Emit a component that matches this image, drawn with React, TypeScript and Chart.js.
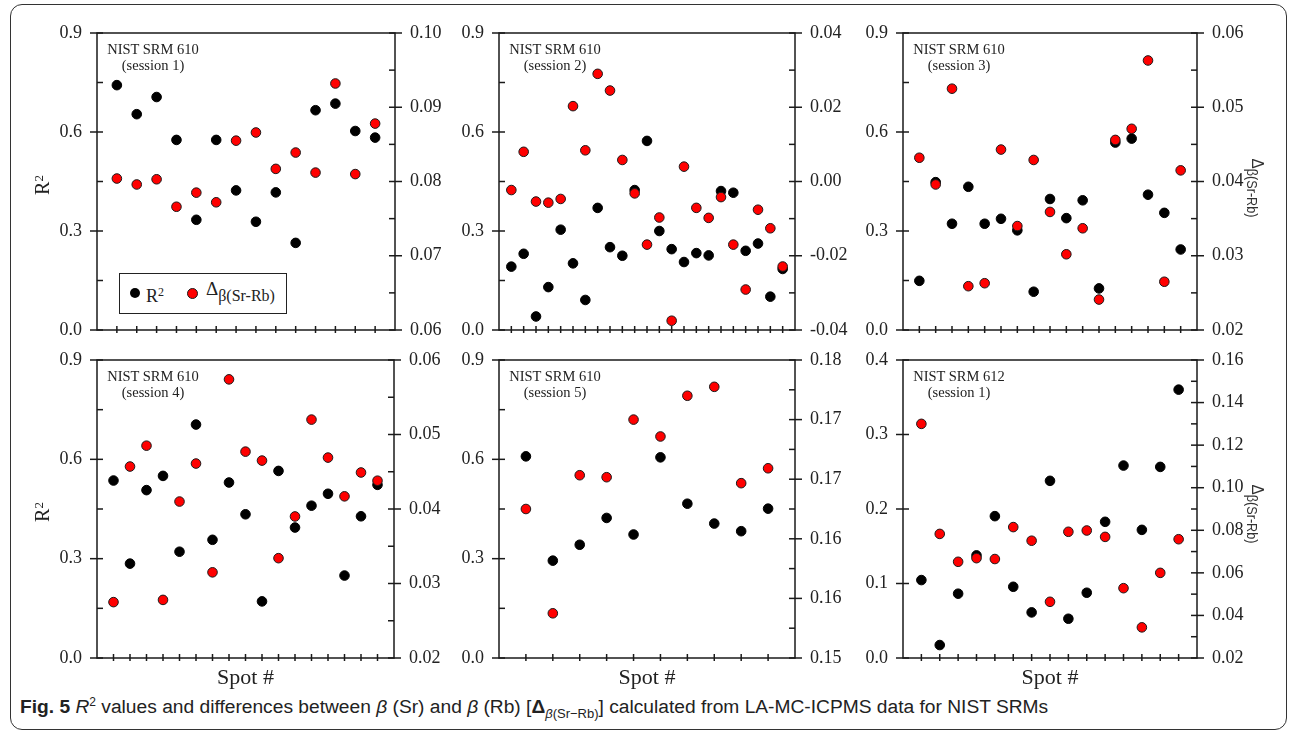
import React, { useEffect, useRef } from "react";
import { Chart, registerables } from "chart.js";

Chart.register(...registerables);

// ---------------- DATA ----------------
// NIST SRM 610 (session 1)
const s1R2 = [0.742, 0.654, 0.706, 0.576, 0.334, 0.576, 0.423, 0.328, 0.417, 0.264, 0.666, 0.686, 0.603, 0.583];
const s1Delta = [0.0804, 0.0796, 0.0803, 0.0766, 0.0785, 0.0772, 0.0855, 0.0866, 0.0817, 0.0839, 0.0812, 0.0932, 0.081, 0.0878];

// NIST SRM 610 (session 2)
const s2R2 = [0.192, 0.231, 0.041, 0.13, 0.304, 0.202, 0.091, 0.37, 0.251, 0.225, 0.424, 0.573, 0.3, 0.245, 0.206, 0.233, 0.226, 0.421, 0.416, 0.24, 0.262, 0.101, 0.185];
const s2Delta = [-0.0023, 0.008, -0.0054, -0.0057, -0.0047, 0.0203, 0.0084, 0.029, 0.0245, 0.0058, -0.0032, -0.017, -0.0097, -0.0375, 0.004, -0.0071, -0.0098, -0.0042, -0.017, -0.0291, -0.0076, -0.0126, -0.0229];

// NIST SRM 610 (session 3)
const s3R2 = [0.149, 0.448, 0.322, 0.434, 0.322, 0.337, 0.302, 0.116, 0.397, 0.339, 0.393, 0.126, 0.568, 0.58, 0.41, 0.355, 0.244];
const s3Delta = [0.0432, 0.0396, 0.0525, 0.0259, 0.0263, 0.0443, 0.034, 0.0429, 0.0359, 0.0302, 0.0337, 0.0241, 0.0456, 0.0471, 0.0563, 0.0265, 0.0415];

// NIST SRM 610 (session 4)
const s4R2 = [0.536, 0.285, 0.507, 0.55, 0.321, 0.705, 0.357, 0.53, 0.434, 0.171, 0.565, 0.394, 0.46, 0.496, 0.249, 0.428, 0.523];
const s4Delta = [0.0275, 0.0457, 0.0485, 0.0278, 0.041, 0.0461, 0.0315, 0.0574, 0.0477, 0.0465, 0.0334, 0.039, 0.052, 0.0469, 0.0417, 0.0449, 0.0438];

// NIST SRM 610 (session 5)
const s5R2 = [0.609, 0.294, 0.342, 0.423, 0.373, 0.606, 0.466, 0.406, 0.383, 0.451];
const s5Delta = [0.165, 0.1545, 0.1684, 0.1682, 0.174, 0.1723, 0.1764, 0.1773, 0.1676, 0.1691];

// NIST SRM 612 (session 1)
const s6R2 = [0.1046, 0.0174, 0.0863, 0.1377, 0.1904, 0.0956, 0.0612, 0.2378, 0.0527, 0.0876, 0.1828, 0.2583, 0.172, 0.2565, 0.3602];
const s6Delta = [0.13, 0.0783, 0.0652, 0.0669, 0.0665, 0.0815, 0.0751, 0.0464, 0.0793, 0.0799, 0.0769, 0.0528, 0.0344, 0.06, 0.0758];

// Tick values
const leftTicksA = [0, 0.3, 0.6, 0.9];
const leftTicksB = [0, 0.1, 0.2, 0.3, 0.4];
const rightTicks1 = [0.06, 0.07, 0.08, 0.09, 0.1];
const rightTicks2 = [-0.04, -0.02, 0, 0.02, 0.04];
const rightTicks3 = [0.02, 0.03, 0.04, 0.05, 0.06];
const rightTicks4 = [0.02, 0.03, 0.04, 0.05, 0.06];
const rightTicks5 = [0.15, 0.156, 0.162, 0.168, 0.174, 0.18];
const rightTicks6 = [0.02, 0.04, 0.06, 0.08, 0.1, 0.12, 0.14, 0.16];

const panelNames = [
  ["NIST SRM 610", "(session 1)"],
  ["NIST SRM 610", "(session 2)"],
  ["NIST SRM 610", "(session 3)"],
  ["NIST SRM 610", "(session 4)"],
  ["NIST SRM 610", "(session 5)"],
  ["NIST SRM 612", "(session 1)"],
];

type Spec = {
  r2: number[];
  delta: number[];
  left: number[];
  right: number[];
  leftMinor: boolean;
  rightMinor: boolean;
  names: string[];
};

const specs: Spec[] = [
  { r2: s1R2, delta: s1Delta, left: leftTicksA, right: rightTicks1, leftMinor: true, rightMinor: true, names: panelNames[0] },
  { r2: s2R2, delta: s2Delta, left: leftTicksA, right: rightTicks2, leftMinor: true, rightMinor: true, names: panelNames[1] },
  { r2: s3R2, delta: s3Delta, left: leftTicksA, right: rightTicks3, leftMinor: true, rightMinor: true, names: panelNames[2] },
  { r2: s4R2, delta: s4Delta, left: leftTicksA, right: rightTicks4, leftMinor: true, rightMinor: true, names: panelNames[3] },
  { r2: s5R2, delta: s5Delta, left: leftTicksA, right: rightTicks5, leftMinor: true, rightMinor: true, names: panelNames[4] },
  { r2: s6R2, delta: s6Delta, left: leftTicksB, right: rightTicks6, leftMinor: false, rightMinor: true, names: panelNames[5] },
];

// ---------------- LAYOUT ----------------
type Box = { L: number; T: number; R: number; B: number };
const layouts: Box[] = [
  { L: 97, T: 33, R: 395, B: 330 },
  { L: 499, T: 33, R: 795, B: 330 },
  { L: 903, T: 33, R: 1197, B: 330 },
  { L: 97, T: 360, R: 394, B: 658 },
  { L: 499, T: 360, R: 795, B: 658 },
  { L: 903, T: 360, R: 1197, B: 658 },
];

const AX = 62; // axis width each side
const PADV = 30; // vertical room above/below plot area inside canvas
const SERIF = "'Liberation Serif', 'Times New Roman', serif";
const SANS = "'Liberation Sans', Arial, sans-serif";
const INK = "#1a1a1a";

Chart.defaults.font.family = SERIF;

const framePlugin = {
  id: "frame",
  beforeDatasetsDraw(chart: any, _args: any, opts: any) {
    const { ctx, chartArea: a, scales } = chart;
    ctx.save();
    ctx.strokeStyle = INK;
    ctx.lineWidth = 1.5;
    ctx.strokeRect(a.left, a.top, a.right - a.left, a.bottom - a.top);
    const seg = (x1: number, y1: number, x2: number, y2: number) => {
      ctx.beginPath();
      ctx.moveTo(x1, y1);
      ctx.lineTo(x2, y2);
      ctx.stroke();
    };
    const drawY = (scale: any, side: "left" | "right", minor: boolean) => {
      const vals: number[] = scale.ticks.map((t: any) => t.value);
      const x = side === "left" ? a.left : a.right;
      const out = side === "left" ? -1 : 1;
      vals.forEach((v) => {
        const y = scale.getPixelForValue(v);
        seg(x + out * 7, y, x - out * 6, y);
      });
      if (minor) {
        for (let i = 0; i < vals.length - 1; i++) {
          const y = scale.getPixelForValue((vals[i] + vals[i + 1]) / 2);
          seg(x, y, x - out * 6, y);
        }
      }
    };
    drawY(scales.y, "left", opts.leftMinor);
    drawY(scales.y1, "right", opts.rightMinor);
    for (let i = 1; i <= opts.n; i++) {
      const px = scales.x.getPixelForValue(i);
      seg(px, a.bottom - 4, px, a.bottom + 3);
    }
    ctx.restore();
  },
};

function Panel({ spec, box }: { spec: Spec; box: Box }) {
  const ref = useRef<HTMLCanvasElement | null>(null);
  const W = box.R - box.L + 2 * AX;
  const H = box.B - box.T + 2 * PADV;
  useEffect(() => {
    const n = spec.r2.length;
    const tickFont = { family: SERIF, size: 18 };
    const chart = new Chart(ref.current as HTMLCanvasElement, {
      type: "scatter",
      data: {
        datasets: [
          {
            label: "R2",
            data: spec.r2.map((v, i) => ({ x: i + 1, y: v })),
            yAxisID: "y",
            backgroundColor: "#000000",
            borderColor: "#000000",
            borderWidth: 1,
            pointRadius: 4.8,
            order: 1,
          },
          {
            label: "Delta",
            data: spec.delta.map((v, i) => ({ x: i + 1, y: v })),
            yAxisID: "y1",
            backgroundColor: "#ff0000",
            borderColor: INK,
            borderWidth: 1,
            pointRadius: 4.8,
            order: 0,
          },
        ],
      },
      options: {
        responsive: false,
        maintainAspectRatio: false,
        animation: false,
        events: [],
        layout: { padding: { top: PADV, bottom: 0, left: 0, right: 0 } },
        plugins: {
          legend: { display: false },
          tooltip: { enabled: false },
          frame: { n, leftMinor: spec.leftMinor, rightMinor: spec.rightMinor },
        } as any,
        scales: {
          x: {
            type: "linear",
            min: 0,
            max: n + 1,
            afterFit: (s: any) => {
              s.height = PADV;
            },
            ticks: { display: false },
            grid: { display: false, drawTicks: false },
            border: { display: false },
          },
          y: {
            type: "linear",
            position: "left",
            min: spec.left[0],
            max: spec.left[spec.left.length - 1],
            afterBuildTicks: (s: any) => {
              s.ticks = spec.left.map((v) => ({ value: v }));
            },
            afterFit: (s: any) => {
              s.width = AX;
            },
            grid: { display: false, drawTicks: false },
            border: { display: false },
            ticks: {
              padding: 15,
              color: "#222",
              font: tickFont,
              callback: (v: any) => Number(v).toFixed(1),
            },
          },
          y1: {
            type: "linear",
            position: "right",
            min: spec.right[0],
            max: spec.right[spec.right.length - 1],
            afterBuildTicks: (s: any) => {
              s.ticks = spec.right.map((v) => ({ value: v }));
            },
            afterFit: (s: any) => {
              s.width = AX;
            },
            grid: { display: false, drawTicks: false },
            border: { display: false },
            ticks: {
              padding: 15,
              color: "#222",
              font: tickFont,
              callback: (v: any) => Number(v).toFixed(2),
            },
          },
        },
      } as any,
      plugins: [framePlugin as any],
    });
    return () => chart.destroy();
  }, [spec]);
  return (
    <canvas
      ref={ref}
      width={W}
      height={H}
      style={{ position: "absolute", left: box.L - AX, top: box.T - PADV, width: W, height: H }}
    />
  );
}

const abs = (x: number, y: number, extra: React.CSSProperties = {}): React.CSSProperties => ({
  position: "absolute",
  left: x,
  top: y,
  whiteSpace: "nowrap",
  ...extra,
});

export default function App() {
  const centers = layouts.map((b) => (b.L + b.R) / 2);
  return (
    <div
      style={{
        position: "absolute",
        left: 0,
        top: 0,
        width: 1295,
        height: 736,
        background: "#fff",
        fontFamily: SERIF,
        color: "#222",
        overflow: "hidden",
      }}
    >
      <div
        style={{
          position: "absolute",
          left: 10,
          top: 4,
          width: 1277,
          height: 726,
          border: "1.5px solid #333",
          borderRadius: 12,
          boxSizing: "border-box",
        }}
      />
      {specs.map((s, i) => (
        <Panel key={i} spec={s} box={layouts[i]} />
      ))}
      {specs.map((s, i) => (
        <div
          key={"n" + i}
          style={abs(layouts[i].L + 56, layouts[i].T + 8, {
            transform: "translateX(-50%)",
            textAlign: "center",
            fontSize: 14.5,
            lineHeight: "16px",
          })}
        >
          <div>{s.names[0]}</div>
          <div>{s.names[1]}</div>
        </div>
      ))}
      {/* Left axis titles */}
      {[185, 512].map((y, i) => (
        <div key={"r" + i} style={abs(42, y, { transform: "translate(-50%,-50%) rotate(-90deg)", fontSize: 20 })}>
          R<sup style={{ fontSize: 13, verticalAlign: "6px" }}>2</sup>
        </div>
      ))}
      {/* Right axis titles */}
      {[188, 514].map((y, i) => (
        <div
          key={"d" + i}
          style={abs(1257, y, {
            transform: "translate(-50%,-50%) rotate(90deg) scaleX(0.9)",
            fontFamily: SANS,
            color: "#333",
          })}
        >
          <span style={{ fontSize: 17 }}>Δ</span>
          <span style={{ fontSize: 14, position: "relative", top: 5 }}>β(Sr-Rb)</span>
        </div>
      ))}
      {/* Spot # labels */}
      {[3, 4, 5].map((k) => (
        <div key={"s" + k} style={abs(centers[k], 677, { transform: "translate(-50%,-50%)", fontSize: 22 })}>
          Spot #
        </div>
      ))}
      {/* Legend */}
      <div
        style={{
          position: "absolute",
          left: 119,
          top: 273,
          width: 168,
          height: 41,
          border: "1.5px solid #222",
          boxSizing: "border-box",
          background: "#fff",
        }}
      >
        <div style={abs(10, 14, { width: 10, height: 10, borderRadius: 5, background: "#000" })} />
        <div style={abs(26, 8, { fontSize: 18, lineHeight: "20px" })}>
          R<sup style={{ fontSize: 12, verticalAlign: "6px" }}>2</sup>
        </div>
        <div
          style={abs(67, 14, {
            width: 11,
            height: 11,
            borderRadius: 6,
            background: "#ff0000",
            border: "1px solid #1a1a1a",
            boxSizing: "border-box",
          })}
        />
        <div style={abs(86, 4, { fontSize: 19, lineHeight: "22px" })}>
          Δ<span style={{ fontSize: 16, position: "relative", top: 6 }}>β(Sr-Rb)</span>
        </div>
      </div>
      {/* Caption */}
      <div style={abs(20, 695, { fontFamily: SANS, fontSize: 19.2, color: "#222" })}>
        <b>Fig. 5</b> <i>R</i>
        <sup style={{ fontSize: 12 }}>2</sup> values and differences between <i>β</i> (Sr) and <i>β</i> (Rb) [
        <b>Δ</b>
        <sub style={{ fontSize: 13 }}>
          <i>β</i>(Sr−Rb)
        </sub>
        ] calculated from LA-MC-ICPMS data for NIST SRMs
      </div>
    </div>
  );
}
